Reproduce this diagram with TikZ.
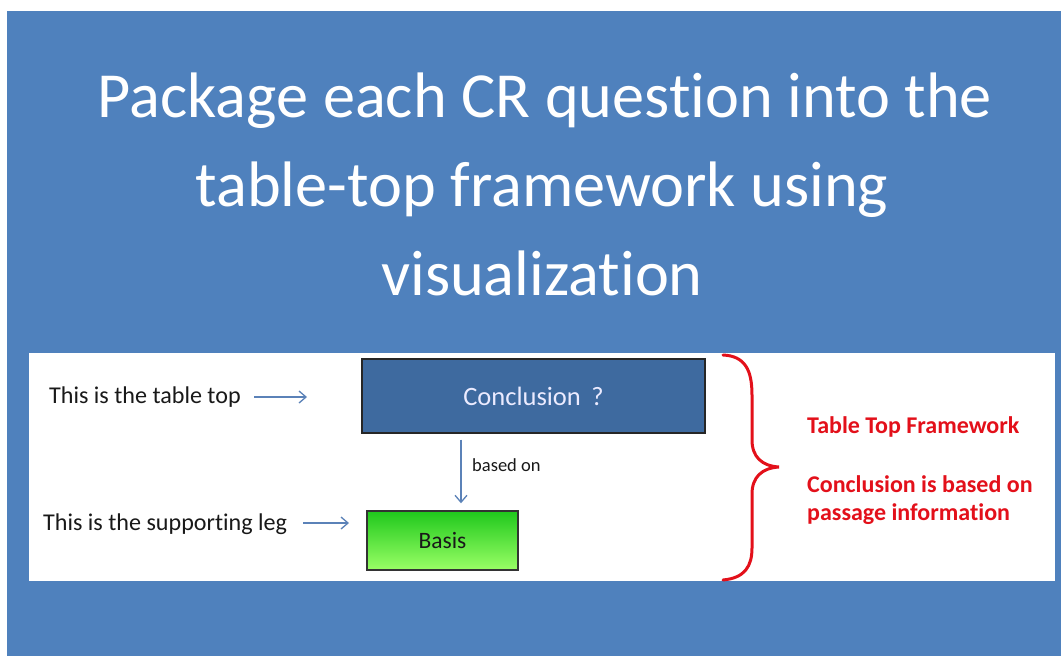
\documentclass[tikz,border=0pt]{standalone}
\usepackage{fontspec}
\setmainfont[Ligatures={NoCommon}]{Carlito}
\usetikzlibrary{arrows.meta}
\definecolor{slideblue}{HTML}{4F81BD}
\definecolor{boxblue}{HTML}{3E6A9F}
\definecolor{arrowblue}{HTML}{5B82B8}
\definecolor{bracered}{HTML}{E3101A}
\definecolor{greentop}{HTML}{1FC81C}
\definecolor{greenbot}{HTML}{9AFF66}
\tikzset{
  px/.style={x=1pt,y=-1pt},
  titleline/.style={anchor=base,text=white,inner sep=0,font=\fontsize{64.3}{74}\selectfont},
  note/.style={anchor=base west,inner sep=0,font=\fontsize{24.1}{28}\selectfont,text=black!90},
  pointer/.style={draw=arrowblue,line width=1.3pt,-{Straight Barb[length=7pt,width=12pt,line width=1.3pt]}},
  redtext/.style={anchor=base west,inner sep=0,text=bracered,font=\fontsize{24}{28}\selectfont\bfseries},
}
\begin{document}
\begin{tikzpicture}[px]
\useasboundingbox (0,0) rectangle (1061,656);
% slide background and white panel
\fill[slideblue] (7,11) rectangle (1061,656);
\fill[white] (29,353) rectangle (1055,581);

% title
\node[titleline] (t1) at (545,117) {Package each CR question into the};
\node[titleline] (t2) at (542,206) {table-top framework using};
\node[titleline] (t3) at (542,295) {visualization};

% the two boxes
\node[draw=black!85,line width=1.2pt,fill=boxblue,minimum width=343pt,minimum height=74pt,inner sep=0,
      text=white!92!blue,font=\fontsize{26.5}{30}\selectfont] (concl) at (533.5,396) {Conclusion\, ?};
\node[draw=black!80,line width=1.5pt,top color=greentop,bottom color=greenbot,minimum width=151pt,minimum height=59pt,inner sep=0,
      text=black!90,font=\fontsize{23.5}{27}\selectfont] (basis) at (442.5,540.5) {Basis};

% link between the boxes
\coordinate (linkx) at (461,0);
\draw[pointer,shorten <=6pt,shorten >=7pt] (concl.south -| linkx) -- (basis.north -| linkx);
\node[anchor=base west,inner sep=0,font=\fontsize{18.5}{21}\selectfont,text=black!90] (based) at (472,471) {based on};

% labels on the left
\node[note] (toplab) at (49,403) {This is the table top};
\node[note] (leglab) at (43,530) {This is the supporting leg};
\coordinate (topA) at (254,397);
\coordinate (topB) at (307,397);
\coordinate (legA) at (303,523);
\coordinate (legB) at (349,523);
\draw[pointer] (topA) -- (topB);
\draw[pointer] (legA) -- (legB);

% brace grouping the framework
\draw[bracered,line width=3pt,line cap=round]
  (723,355) .. controls (745,356) and (752,370) .. (752,395)
  -- (752,440) .. controls (752,457) and (762,466) .. (779,467)
  .. controls (762,468) and (752,477) .. (752,494)
  -- (752,548) .. controls (752,566) and (745,578) .. (723,580);

% explanation
\node[redtext] (fw) at (807,433) {Table Top Framework};
\node[redtext] (ex1) at (807,492) {Conclusion is based on};
\node[redtext] (ex2) at (807,520) {passage information};
\end{tikzpicture}
\end{document}
